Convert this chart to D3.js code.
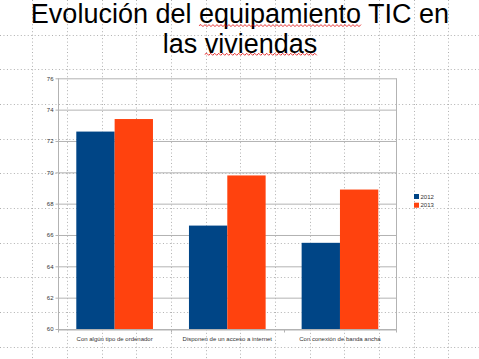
<!DOCTYPE html>
<html><head><meta charset="utf-8">
<script src="https://cdn.jsdelivr.net/npm/d3@7"></script>
<style>html,body{margin:0;padding:0;background:#fff;}svg{display:block;}</style>
</head><body>
<svg id="c" width="479" height="359"></svg>
<script>
const categories = ["Con algún tipo de ordenador", "Disponen de un acceso a internet", "Con conexión de banda ancha"];
const seriesNames = ["2012", "2013"];
const values2012 = [72.6, 66.6, 65.5];
const values2013 = [73.4, 69.8, 68.9];
const yTicks = [60, 62, 64, 66, 68, 70, 72, 74, 76];
const colors = ["#004586", "#ff420e"];
const titleLines = ["Evolución del equipamiento TIC en", "las viviendas"];

const svg = d3.select("#c");
svg.append("rect").attr("width", 479).attr("height", 359).attr("fill", "#fff");

// slide dotted grid
const gstep = 34.667;
const bg = svg.append("g").attr("stroke", "#b0b0b0").attr("stroke-width", 1).attr("stroke-dasharray", "1 2.467");
d3.range(1, 14).forEach(k => {
  const x = Math.round(-2.33 + gstep * k) + 0.5;
  bg.append("line").attr("x1", x).attr("x2", x).attr("y1", 0).attr("y2", 359);
});
d3.range(1, 11).forEach(k => {
  const y = Math.round(gstep * k) + 0.5;
  bg.append("line").attr("x1", 0).attr("x2", 479).attr("y1", y).attr("y2", y);
});

// title
const title = svg.append("g").attr("font-family", "Liberation Sans, Arial, sans-serif").attr("font-size", 27).attr("fill", "#000");
const t1 = title.append("text").attr("x", 240).attr("y", 23.3).attr("text-anchor", "middle").text(titleLines[0]);
const t2 = title.append("text").attr("x", 240).attr("y", 52.7).attr("text-anchor", "middle").text(titleLines[1]);

function wavy(textSel, word, yOff) {
  const node = textSel.node();
  const s = node.textContent;
  const i = s.indexOf(word);
  const x0 = node.getStartPositionOfChar(i).x;
  const x1 = node.getEndPositionOfChar(i + word.length - 1).x;
  const y = +textSel.attr("y") + yOff;
  let d = "M" + x0 + "," + y;
  let up = true;
  for (let x = x0 + 2; x <= x1; x += 2) { d += "L" + x + "," + (y + (up ? -1 : 1)); up = !up; }
  svg.append("path").attr("d", d).attr("fill", "none").attr("stroke", "#e00000").attr("stroke-width", 0.8);
}
wavy(t1, "equipamiento", 2.3);
wavy(t2, "viviendas", 1.6);

// chart
const L = 58.3, R = 396.3, T = 78.3, B = 329;
const y = d3.scaleLinear().domain([60, 76]).range([B, T]);
const x0 = d3.scaleBand().domain(categories).range([L, R]).padding(0);
const x1 = d3.scaleBand().domain(seriesNames).range([18, x0.bandwidth() - 18]).padding(0);

const chart = svg.append("g");
// y axis w/ gridlines
const yAxis = chart.append("g").attr("transform", `translate(${Math.round(L) + 0.5},0)`)
  .call(d3.axisLeft(y).tickValues(yTicks).tickSizeInner(-(R - L)).tickSizeOuter(0).tickPadding(5).tickFormat(d3.format("d")));
yAxis.select(".domain").remove();
yAxis.selectAll(".tick line").attr("x1", -3).attr("stroke", "#b3b3b3");
yAxis.selectAll(".tick text").attr("font-family", "Liberation Sans, Arial, sans-serif").attr("font-size", 6).attr("fill", "#333");

// bars
const data = categories.map((c, i) => ({ c, v: [values2012[i], values2013[i]] }));
const grp = chart.selectAll(".grp").data(data).join("g").attr("transform", d => `translate(${x0(d.c)},0)`);
grp.selectAll("rect").data(d => d.v.map((v, j) => ({ v, s: seriesNames[j], j }))).join("rect")
  .attr("x", d => x1(d.s)).attr("width", x1.bandwidth())
  .attr("y", d => y(d.v)).attr("height", d => B - y(d.v))
  .attr("fill", d => colors[d.j]);

// frame: left axis, right, top
const fr = chart.append("g").attr("stroke", "#b3b3b3").attr("stroke-width", 1).attr("fill", "none");
fr.append("line").attr("x1", Math.round(L) + 0.5).attr("x2", Math.round(L) + 0.5).attr("y1", T).attr("y2", B + 3);
fr.append("line").attr("x1", Math.round(R) + 0.5).attr("x2", Math.round(R) + 0.5).attr("y1", T).attr("y2", B + 3);

// x axis
const xAxis = chart.append("g").attr("transform", `translate(0,${Math.round(B) + 0.5})`)
  .call(d3.axisBottom(x0).tickSize(0).tickPadding(7));
xAxis.select(".domain").attr("stroke", "#b3b3b3");
xAxis.selectAll(".tick text").attr("font-family", "Liberation Sans, Arial, sans-serif").attr("font-size", 6).attr("fill", "#333");
const bounds = [...categories.map(c => x0(c)), R];
xAxis.selectAll(".bt").data(bounds).join("line").attr("class", "bt")
  .attr("x1", d => Math.round(d) + 0.5).attr("x2", d => Math.round(d) + 0.5)
  .attr("y1", 0).attr("y2", 3).attr("stroke", "#b3b3b3");

// legend
const lg = svg.append("g").attr("transform", "translate(414,194)");
seriesNames.forEach((s, i) => {
  lg.append("rect").attr("x", 0).attr("y", i * 8.7).attr("width", 5).attr("height", 5).attr("fill", colors[i]);
  lg.append("text").attr("x", 6.5).attr("y", i * 8.7 + 4.6).attr("font-family", "Liberation Sans, Arial, sans-serif")
    .attr("font-size", 6).attr("fill", "#333").text(s);
});
</script>
</body></html>
